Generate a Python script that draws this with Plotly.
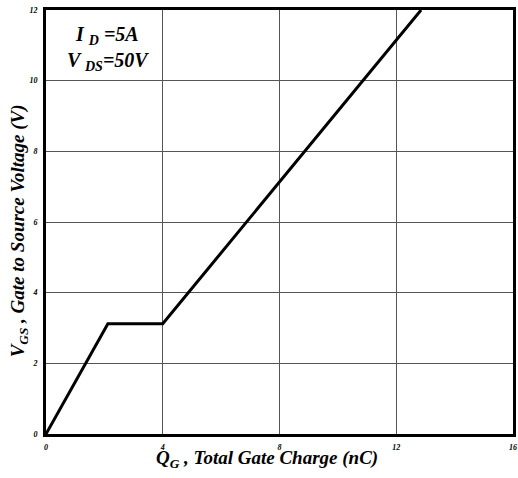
import plotly.graph_objects as go

qg = [0, 2.12, 4.0, 12.85]
vgs = [0, 3.12, 3.12, 12.0]
x_ticks = [0, 4, 8, 12, 16]
y_ticks = [0, 2, 4, 6, 8, 10, 12]

fig = go.Figure()
fig.add_trace(go.Scatter(x=qg, y=vgs, mode="lines",
                         line=dict(color="black", width=3), showlegend=False))

tickfont = dict(family="Liberation Serif", size=8, color="black")
common = dict(showgrid=True, gridcolor="#555", gridwidth=1, zeroline=False,
              showline=True, linecolor="black", linewidth=3, mirror=True,
              tickfont=tickfont, ticks="", automargin=False)
fig.update_xaxes(range=[0, 16], tickvals=x_ticks,
                 ticktext=["<b><i>%d</i></b>" % v for v in x_ticks],
                 ticklabelstandoff=3, **common)
fig.update_yaxes(range=[0, 12], tickvals=y_ticks,
                 ticktext=["<b><i>%d</i></b>" % v for v in y_ticks],
                 ticklabelstandoff=4, **common)

titlefont = dict(family="Liberation Serif", size=19, color="black")
fig.add_annotation(x=0.473, y=-0.025, xref="paper", yref="paper", xanchor="center", yanchor="top",
                   text="<b><i>Q<sub>G</sub> , Total Gate Charge (nC)</i></b>",
                   showarrow=False, font=titlefont)
fig.add_annotation(x=-0.056, y=0.48, xref="paper", yref="paper", xanchor="center", yanchor="middle",
                   text="<b><i>V<sub>GS</sub> , Gate to Source Voltage (V)</i></b>",
                   textangle=-90, showarrow=False, font=titlefont)

fig.add_annotation(x=0.133, y=0.975, xref="paper", yref="paper", xanchor="center", yanchor="top",
                   text="<b><i>I <sub>D</sub> =5A<br>V <sub>DS</sub>=50V</i></b>",
                   showarrow=False, align="center", bgcolor="white",
                   font=dict(family="Liberation Serif", size=20, color="black"))

fig.update_layout(width=518, height=478, margin=dict(l=46, r=5, t=10, b=44),
                  paper_bgcolor="white", plot_bgcolor="white")
fig.write_html("out.html", config={"displayModeBar": False},
               post_script="document.body.style.margin='0';document.body.style.overflow='hidden';")
